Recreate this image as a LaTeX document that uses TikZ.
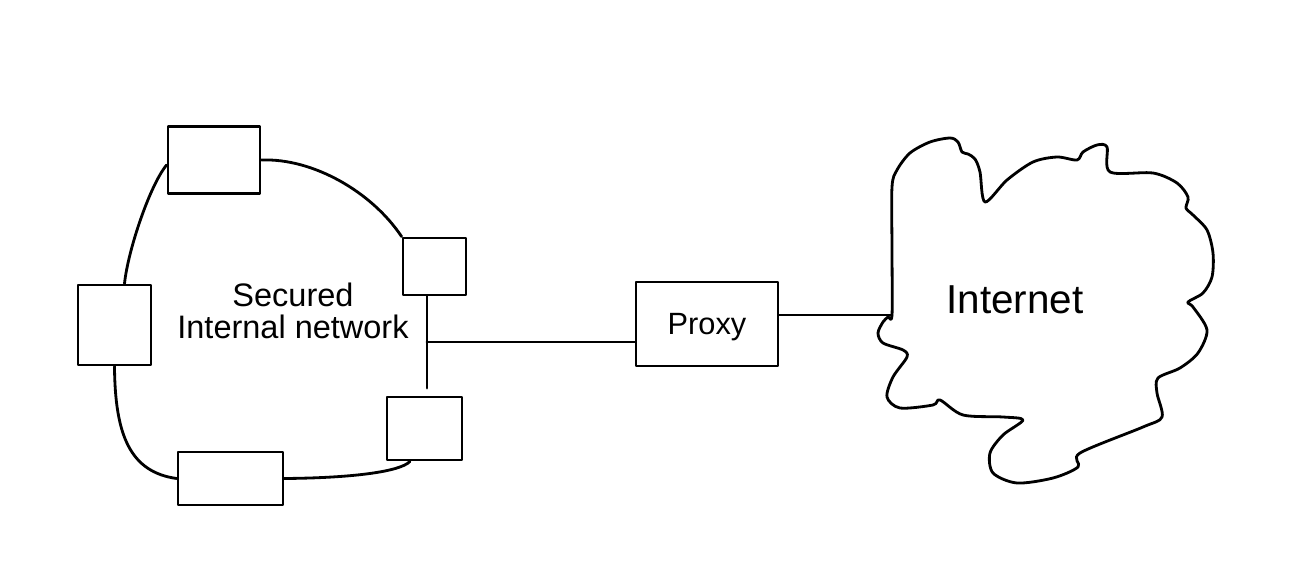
\documentclass[tikz,border=0pt]{standalone}
\usepackage{fontspec}
\setmainfont{Liberation Sans}
\usepackage{tikz}
\usetikzlibrary{positioning}

\begin{document}
\begin{tikzpicture}[x=0.02cm, y=-0.02cm, line width=1.6pt, line join=round, line cap=round,
	host/.style={draw, rectangle, inner sep=0pt},
	lbl/.style={align=center, inner sep=0pt}]
		\useasboundingbox (0,0) rectangle (1296,588);

		% machines on the ring
		\node[host, minimum width=1.84cm, minimum height=1.34cm] (pc1) at (214,160) {};
		\node[host, minimum width=1.26cm, minimum height=1.14cm] (pc2) at (434.5,266.5) {};
		\node[host, minimum width=1.50cm, minimum height=1.26cm] (pc3) at (424.5,428.5) {};
		\node[host, minimum width=2.10cm, minimum height=1.06cm] (pc4) at (230.5,478.5) {};
		\node[host, minimum width=1.46cm, minimum height=1.60cm] (pc5) at (114.5,325) {};
		\node[lbl, font=\fontsize{18.5}{18.5}\selectfont] (lan) at (293,311) {Secured\\Internal network};

		\node[host, minimum width=2.84cm, minimum height=1.68cm] (proxy) at (707,324) {};
		\node[lbl, font=\fontsize{17.5}{18.5}\selectfont] (proxylbl) at (707,327) {Proxy};

		\coordinate (hub) at (427,342);
		\coordinate (inet) at (892,315);

		% the ring
		\draw (pc1.east) .. controls (313,158) and (372,192) .. (pc2.north west);
		\draw ([yshift=-0.1cm]pc1.west) .. controls (150,185) and (128,250) .. ([xshift=0.2cm]pc5.north);
		\draw (pc5.south) .. controls (115,435) and (130,472) .. (pc4.west);
		\draw (pc4.east) .. controls (350,478) and (400,472) .. ([xshift=-0.29cm]pc3.south);
		\draw (pc2.south -| hub) -- ([yshift=0.15cm]pc3.north -| hub);

		% links out
		\draw (hub) -- (proxy.west |- hub);
		\draw (proxy.east |- inet) -- (inet);

		% cloud
		\draw plot[smooth cycle, tension=0.5] coordinates {
			(892,315) (892,250) (892,187) (897,170) (910,153) (930,142) (950,138) (958,142)
			(962,152) (968,154) (975,159) (980,172) (985,202) (1007,180) (1033,162) (1057,157)
			(1077,160) (1083,152) (1097,145) (1107,147) (1110,172) (1153,173) (1177,183)
			(1188,197) (1186,208) (1193,215) (1207,230) (1213,253) (1212,277) (1203,293)
			(1188,302) (1193,307) (1207,330) (1198,353) (1180,368) (1158,378) (1157,393)
			(1162,417) (1143,427) (1080,453) (1078,467) (1053,478) (1017,483) (993,473)
			(990,453) (1003,435) (1023,420) (1003,417) (963,415) (940,400) (933,405)
			(900,408) (887,397) (893,377) (907,357) (903,350) (883,343) (878,333) (883,322)
			(888,317)};
		\node[lbl, font=\fontsize{23}{25}\selectfont] (cloudlbl) at (1015,300) {Internet};
	\end{tikzpicture}
\end{document}
